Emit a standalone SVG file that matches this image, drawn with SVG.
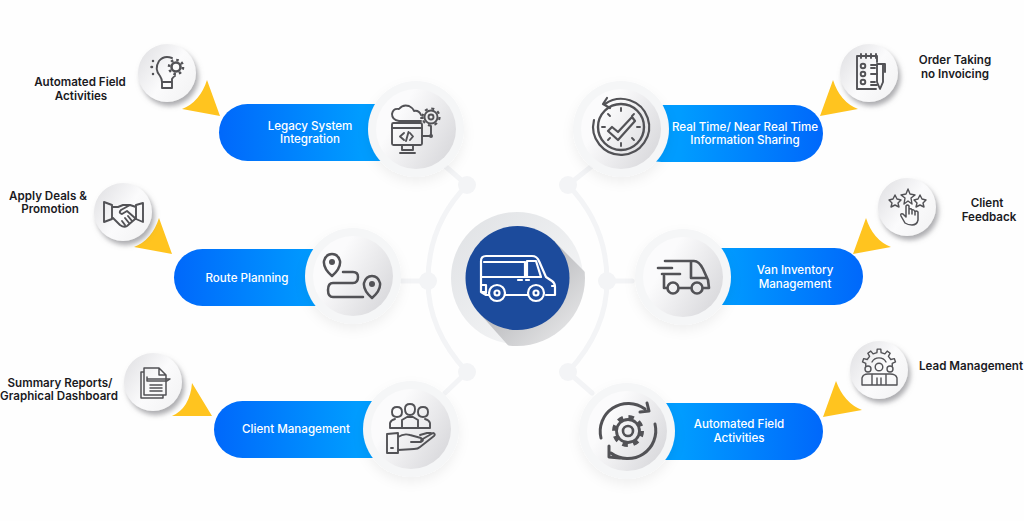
<svg xmlns="http://www.w3.org/2000/svg" width="1024" height="521" viewBox="0 0 1024 521" stroke-width="1.9" stroke-linecap="round" stroke-linejoin="round">
<style>
.t{font-family:"Inter","Liberation Sans",sans-serif;font-weight:600;font-size:11.6px;text-anchor:middle;fill:#1a1a1e;stroke:none}
.w{fill:#fff;font-weight:500}
.i{fill:none;stroke:#525256}
.v{fill:none;stroke:#fff;stroke-width:2.2}
.c{fill:none;stroke:#f3f4f6;stroke-width:5}
.n{fill:#f3f4f6}
.y{fill:#ffc41f}
.r{fill:#f5f6f7;filter:url(#soft)}
.b{fill:url(#big)}
.s{fill:url(#small);filter:url(#sh)}
</style>
<defs>
<linearGradient id="pl" x1="0" x2="1" y1="0" y2="0"><stop offset="0" stop-color="#0068fb"/><stop offset=".75" stop-color="#009cff"/></linearGradient>
<linearGradient id="pr" x1="1" x2="0" y1="0" y2="0"><stop offset="0" stop-color="#0068fb"/><stop offset=".75" stop-color="#009cff"/></linearGradient>
<linearGradient id="big" x1="0" y1="0" x2="1" y2=".6"><stop offset=".35" stop-color="#fbfbfc"/><stop offset="1" stop-color="#dcdcdf"/></linearGradient>
<linearGradient id="small" x1="0" y1="0" x2="1" y2=".7"><stop offset="0" stop-color="#dedee1"/><stop offset=".6" stop-color="#fbfbfc"/><stop offset="1" stop-color="#f4f4f5"/></linearGradient>
<linearGradient id="hub" x1="0" y1="0" x2="1" y2="1"><stop offset="0" stop-color="#dfe1e4"/><stop offset=".8" stop-color="#f4f5f6"/></linearGradient>
<linearGradient id="ls" x1="0" y1="0" x2="1" y2="1"><stop offset=".25" stop-color="#b4b5b8"/><stop offset=".85" stop-color="#f4f4f5"/></linearGradient>
<clipPath id="hc"><circle cx="517" cy="278" r="68"/></clipPath>
<filter id="soft" x="-30%" y="-30%" width="160%" height="170%"><feDropShadow dx="0" dy="5" stdDeviation="6" flood-color="#000" flood-opacity=".06"/></filter>
<filter id="sh" x="-30%" y="-30%" width="170%" height="170%"><feDropShadow dx="2.5" dy="4" stdDeviation="2.5" flood-color="#76767c" flood-opacity=".6"/></filter>
</defs>
<rect width="1024" height="521" fill="#fefefe"/>

<g id="connectors">
<path class="c" d="M467 185Q428 225 428 281Q428 330 467 372M568 185Q607 225 607 281Q607 330 568 372"/>
<path class="c" d="M467 185L445 166M402 281H428M467 372L445 393M568 185L592 166M607 281H632M568 372L592 393"/>
<circle class="n" cx="467" cy="185" r="9"/><circle class="n" cx="428" cy="281" r="9"/><circle class="n" cx="467" cy="372" r="9"/>
<circle class="n" cx="568" cy="185" r="9"/><circle class="n" cx="607" cy="281" r="9"/><circle class="n" cx="568" cy="372" r="9"/>
</g>

<g id="hub">
<circle cx="517" cy="278" r="66" fill="url(#hub)"/>
<path d="M554 241L610 297L530 370L481 315Z" fill="url(#ls)" clip-path="url(#hc)"/>
<circle cx="517.500" cy="278" r="52" fill="#1c4b9c"/>
<path class="v" d="M486 292H481V261Q481 256 486 256H532Q537 256 539 261L546 277L552 281Q555 283 555 287V295H546M528 295H505M489 295H486L481 292M481 277H537M484 262H525V277M527 261H536L541 277H527ZM518 280H522M526 280H529M481 285H486V293M552 286H555"/>
<circle class="v" cx="497" cy="293" r="8"/><circle class="v" cx="497" cy="293" r="2.500"/>
<circle class="v" cx="536" cy="293" r="8"/><circle class="v" cx="536" cy="293" r="2.500"/>
</g>

<g id="legacy-system">
<rect x="219" y="104" width="190" height="57" rx="28.500" fill="url(#pl)"/>
<circle class="r" cx="416" cy="129" r="48"/><circle class="b" cx="416" cy="129" r="40"/>
<text class="t w" x="310" y="130">Legacy System</text><text class="t w" x="310" y="143">Integration</text>
<path class="i" d="M399 121Q392 120 392 114Q393 108 399 109Q403 104 409 106Q413 108 414 111Q419 110 421 115M399 121H421"/>
<circle class="i" cx="431" cy="117" r="2.500"/><circle class="i" cx="431" cy="117" r="6.500"/><circle class="i" cx="431" cy="117" r="8.500" stroke-width="2.200" stroke-linecap="butt" stroke-dasharray="3 3.680"/>
<rect class="i" x="392" y="123" width="30" height="22" rx="1.500"/>
<path class="i" d="M392 128H422M402 145V150H413V145M400 153H415M404 133L400 136.500L404 140M410 133L413 136.500L410 140M408.500 132L406 141M431 126V136H422M421 118H423"/>
<circle cx="431" cy="136" r="2" fill="#525256"/>
</g>

<g id="automated-field-left">
<path class="y" d="M207 80L220 116L182 109Q200 102 207 80Z"/>
<circle class="s" cx="167" cy="73" r="29"/>
<text class="t" x="80" y="86">Automated Field</text><text class="t" x="81" y="100">Activities</text>
<path class="i" d="M172 58Q164 55 159 61Q154 69 160 76Q162 79 162 82V88H172V79Q173 77 175 76M162 82H172"/>
<circle class="i" cx="176" cy="67" r="4.500" stroke-width="2.600"/><circle class="i" cx="176" cy="67" r="7" stroke-width="2.600" stroke-linecap="butt" stroke-dasharray="2.500 3"/>
<path class="i" d="M153 61V61.100M151.500 67H152M153 74V74.100" stroke-width="2.500"/>
</g>

<g id="route-planning">
<rect x="174" y="249" width="190" height="57" rx="28.500" fill="url(#pl)"/>
<circle class="r" cx="353" cy="276" r="48"/><circle class="b" cx="353" cy="276" r="40"/>
<text class="t w" x="247" y="282">Route Planning</text>
<path class="i" stroke-width="2.500" d="M332 276Q323 268 324 261Q326 254 332 254Q338 254 340 261Q341 268 332 276ZM372 298Q363 290 364 283Q366 276 372 276Q378 276 380 283Q381 290 372 298ZM343 272H353Q358 272 358 277Q358 283 353 283H333Q328 283 328 290Q328 297 333 297H363"/>
<circle cx="332" cy="262" r="3" fill="#525256"/><circle cx="372" cy="284" r="3" fill="#525256"/>
</g>

<g id="apply-deals">
<path class="y" d="M159 218L172 254L134 247Q152 240 159 218Z"/>
<circle class="s" cx="123" cy="212" r="29"/>
<text class="t" x="48" y="200">Apply Deals &amp;</text><text class="t" x="50" y="213">Promotion</text>
<path class="i" d="M104 202L112 205V219L104 222ZM143 203L136 205V219L143 222ZM112 207H118L123 205H130L136 207M112 217L120 225Q124 228 127 226L134 220L136 218M130 205L121 210Q118 213 122 214L127 211L135 218M122 221L125 225M125 218L129 223M128 216L132 221"/>
</g>

<g id="client-management">
<rect x="214" y="401" width="190" height="57" rx="28.500" fill="url(#pl)"/>
<circle class="r" cx="411" cy="429" r="48"/><circle class="b" cx="411" cy="429" r="40"/>
<text class="t w" x="296" y="433">Client Management</text>
<path class="i" d="M397 407Q392 407 392 412Q392 417 397 417Q402 417 402 412Q402 407 397 407ZM410 404Q405 404 405 409Q405 415 410 415Q415 415 415 409Q415 404 410 404ZM423 407Q418 407 418 412Q418 417 423 417Q428 417 428 412Q428 407 423 407ZM402 428H390V423Q391 420 395 419M418 428H430V423Q429 420 425 419M402 428V420L407 417H413L418 420V428ZM402 428H418"/>
<path class="i" d="M387 434L398 433V453H387ZM398 437Q404 433 410 435L421 438Q425 440 421 442H411M421 440L433 433Q436 434 434 436L420 447Q418 449 414 449L398 450M420 435L427 433H431M391 448H393"/>
</g>

<g id="summary-reports">
<path class="y" d="M192 383L212 416H172Q190 408 192 383Z"/>
<circle class="s" cx="153" cy="382" r="29"/>
<text class="t" x="60" y="387">Summary Reports/</text><text class="t" x="59" y="400">Graphical Dashboard</text>
<path class="i" stroke-width="1.500" d="M144 368H159L166 375V395H144ZM159 368V375H166M144 372H141V398H163V395M147 379H170L167 381H147V377M150 385H162M150 388H162M150 391H162"/>
</g>

<g id="real-time">
<rect x="633" y="105" width="190" height="57" rx="28.500" fill="url(#pr)"/>
<circle class="r" cx="621" cy="129" r="48"/><circle class="b" cx="621" cy="129" r="40"/>
<text class="t w" x="745" y="131">Real Time/ Near Real Time</text><text class="t w" x="745" y="144">Information Sharing</text>
<circle class="i" cx="621" cy="127" r="23" stroke-width="2.400"/>
<path class="i" stroke-width="2.200" d="M605 104A28 28 0 1 1 594 120M607 98L603 104L610 108"/>
<path class="i" stroke-width="2.200" d="M608 131L612 127L618 132L632 117L635 121L618 140Z"/>
<path class="i" d="M621 108V111M621 143V146M602 127H605M637 127H640M608 114L610 116M634 114L632 116M608 140L610 138M634 140L632 138"/>
</g>

<g id="order-taking">
<path class="y" d="M833 80L820 116L858 109Q840 102 833 80Z"/>
<circle class="s" cx="869" cy="73" r="29"/>
<text class="t" x="955" y="64">Order Taking</text><text class="t" x="955" y="78">no Invoicing</text>
<path class="i" d="M877 62V56H857V89H876M861 54V58M866 54V58M871 54V58M876 54V58M871 65H877M871 68H875M871 74H877M871 82H875M871 85H877"/>
<circle class="i" cx="863" cy="66" r="2.300"/><circle class="i" cx="863" cy="74" r="2.300"/><circle class="i" cx="863" cy="82" r="2.300"/>
<path class="i" d="M877 64H883V82L880 89L877 82ZM883 64H885V72"/>
</g>

<g id="van-inventory">
<rect x="673" y="248" width="190" height="57" rx="28.500" fill="url(#pr)"/>
<circle class="r" cx="683" cy="277" r="48"/><circle class="b" cx="683" cy="277" r="40"/>
<text class="t w" x="795" y="274">Van Inventory</text><text class="t w" x="795" y="288">Management</text>
<path class="i" stroke-width="2.600" d="M665 261H694Q699 261 703 269L708 280L709 288H703M691 288H679M667 288H664V276M658 268H672M662 274H680M691 261V278H707"/>
<circle class="i" stroke-width="2.600" cx="673" cy="288" r="5.500"/><circle class="i" stroke-width="2.600" cx="697" cy="288" r="5.500"/>
</g>

<g id="client-feedback">
<path class="y" d="M866 218L853 254L891 247Q873 240 866 218Z"/>
<circle class="s" cx="907" cy="207" r="29"/>
<text class="t" x="987" y="207">Client</text><text class="t" x="989" y="221">Feedback</text>
<path class="i" stroke-width="1.400" d="M895 195L897 199L901 200L898 203L899 207L895 205L891 207L892 203L889 200L893 199ZM908 189L910 194L915 195L911 198L912 204L908 201L904 204L905 198L901 195L906 194ZM920 195L922 199L926 200L923 203L924 207L920 205L916 207L917 203L914 200L918 199Z"/>
<path class="i" stroke-width="1.500" d="M906 206V217L903 214Q900 213 901 216L905 223Q908 225 912 225Q917 225 918 220V212Q916 210 915 212Q914 209 912 210Q911 208 909 209V206Q907.500 204 906 206ZM909 209V214M912 210V214M915 212V215"/>
</g>

<g id="automated-field-right">
<rect x="633" y="403" width="190" height="57" rx="28.500" fill="url(#pr)"/>
<circle class="r" cx="627" cy="431" r="48"/><circle class="b" cx="627" cy="431" r="40"/>
<text class="t w" x="739" y="428">Automated Field</text><text class="t w" x="739" y="442">Activities</text>
<path class="i" stroke-width="3" d="M601 438A28 28 0 0 1 645 409M655 424A28 28 0 0 1 611 453M647 403L649 411L640 412M609 446L609 457L620 458"/>
<circle class="i" stroke-width="2.600" cx="628" cy="431" r="5"/><circle class="i" stroke-width="2.800" cx="628" cy="431" r="11.500"/><circle class="i" stroke-width="4" cx="628" cy="431" r="14" stroke-linecap="butt" stroke-dasharray="5.500 5.500"/>
</g>

<g id="lead-management">
<path class="y" d="M836 381L823 417L862 410Q844 403 836 381Z"/>
<circle class="s" cx="879" cy="370" r="29"/>
<text class="t" x="971" y="370">Lead Management</text>
<path class="i" stroke-width="1.400" d="M865.750 366V363.420L862.500 361.900L863.700 358.600L867.200 359.500L869.600 356.300L867.800 353.200L870.800 351.100L873.100 353.900L876.900 352.700L877.200 349.100H880.800L881.100 352.700L884.900 353.900L887.200 351.100L890.200 353.200L888.400 356.300L890.800 359.500L894.300 358.600L895.500 361.900L892.250 363.420V366M872 362A8 8 0 0 1 886 362"/>
<circle class="i" stroke-width="1.400" cx="879" cy="367" r="3.800"/><circle class="i" stroke-width="1.400" cx="868" cy="369" r="3"/><circle class="i" stroke-width="1.400" cx="890" cy="369" r="3"/>
<path class="i" stroke-width="1.400" d="M862 385V378Q863 374 868 374H890Q896 374 897 378V385ZM872 385V375M886 385V375M877 385V378M881 385V378"/>
</g>
</svg>
